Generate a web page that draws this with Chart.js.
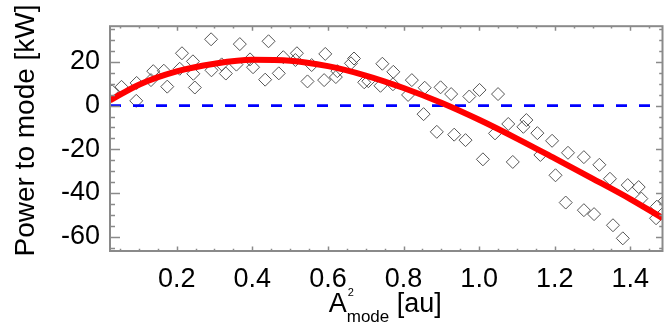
<!DOCTYPE html>
<html>
<head>
<meta charset="UTF-8">
<title>Power to mode</title>
<script src="https://cdn.jsdelivr.net/npm/chart.js"></script>
<style>
  html, body { margin: 0; padding: 0; background: #fff; }
  canvas { display: block; }
</style>
</head>
<body>
<canvas id="powerChart" width="670" height="334"></canvas>
<script>
// measured points: mode amplitude squared [au] vs power [kW]
const ampSq = [0.029, 0.054, 0.093, 0.094, 0.132, 0.138, 0.166, 0.175, 0.208, 0.214,
               0.243, 0.244, 0.248, 0.291, 0.292, 0.319, 0.330, 0.358, 0.367, 0.394,
               0.402, 0.434, 0.443, 0.470, 0.482, 0.514, 0.518, 0.546, 0.557, 0.590,
               0.593, 0.621, 0.625, 0.661, 0.669, 0.696, 0.707, 0.739, 0.744, 0.772,
               0.773, 0.812, 0.822, 0.853, 0.856, 0.888, 0.898, 0.926, 0.934, 0.964,
               0.974, 1.001, 1.010, 1.042, 1.050, 1.077, 1.089, 1.117, 1.125, 1.154,
               1.162, 1.193, 1.202, 1.229, 1.235, 1.277, 1.277, 1.304, 1.318, 1.346,
               1.354, 1.380, 1.393, 1.422, 1.429, 1.468, 1.470, 1.491];
const power = [6.6, 8.6, 2.2, 10.4, 11.7, 15.8, 16.0, 8.7, 16.9, 24.0,
               20.3, 14.6, 8.3, 30.4, 16.2, 18.9, 14.7, 18.8, 28.2, 21.2,
               17.6, 11.9, 29.5, 14.8, 22.2, 20.9, 24.0, 11.1, 18.6, 11.7,
               23.7, 13.1, 15.8, 19.4, 21.6, 10.7, 11.2, 9.1, 19.2, 9.8,
               15.5, 4.9, 11.7, -3.9, 8.2, -12.0, 8.4, 5.3, -13.3, -15.8,
               4.2, 7.2, -24.6, -12.7, 5.3, -8.4, -25.8, -9.7, -6.6, -12.6,
               -22.6, -16.1, -31.9, -44.4, -21.6, -23.6, -47.9, -49.7, -27.1, -33.5,
               -54.8, -60.8, -36.4, -37.3, -42.6, -51.6, -46.3, -43.6];

// fitted curve
const fitX = [0.0236, 0.1, 0.2, 0.3, 0.4, 0.5, 0.6, 0.7, 0.8, 0.9, 1.0, 1.1, 1.2, 1.3, 1.4, 1.485];
const fitY = [2.4, 9.6, 15.7, 19.2, 21.0, 20.6, 18.1, 13.8, 8.1, 1.3, -6.5, -15.1, -24.2, -33.4, -42.8, -51.5];

// zero reference
const zeroX = [0.0236, 1.485];
const zeroY = [0, 0];

const xTicks = [0.2, 0.4, 0.6, 0.8, 1.0, 1.2, 1.4];
const yTicks = [20, 0, -20, -40, -60];

const X_MIN = 0.0236, X_MAX = 1.485;
const Y_MIN = -66.6, Y_MAX = 36.4;
const FONT = '"Liberation Sans", Arial, Helvetica, sans-serif';

const toPoints = (xs, ys) => xs.map((v, i) => ({ x: v, y: ys[i] }));

// closed box with inward major/minor ticks on all four sides
const boxTicks = {
  id: 'boxTicks',
  afterDatasetsDraw(chart) {
    const { ctx, chartArea: a, scales: { x, y } } = chart;
    ctx.save();
    ctx.strokeStyle = '#8a8a8a';
    ctx.lineWidth = 1.5;
    ctx.beginPath();
    for (let k = Math.ceil(X_MIN / 0.05); k * 0.05 <= X_MAX; k++) {
      const px = Math.round(x.getPixelForValue(k * 0.05)) + 0.5;
      const major = k % 4 === 0;
      const len = major ? 4.5 : 2.3;
      ctx.moveTo(px, a.bottom); ctx.lineTo(px, a.bottom - len);
      ctx.moveTo(px, a.top); ctx.lineTo(px, a.top + len);
    }
    for (let k = Math.ceil(Y_MIN / 5); k * 5 <= Y_MAX; k++) {
      const py = Math.round(y.getPixelForValue(k * 5)) + 0.5;
      const major = k % 4 === 0;
      ctx.moveTo(a.left, py); ctx.lineTo(a.left + (major ? 10 : 5), py);
      ctx.moveTo(a.right, py); ctx.lineTo(a.right - (major ? 6.5 : 3.3), py);
    }
    ctx.stroke();
    ctx.lineWidth = 2;
    ctx.strokeRect(a.left, a.top, a.right - a.left, a.bottom - a.top);
    ctx.restore();
  }
};

// axis titles (x title needs a sub- and superscript)
const axisTitles = {
  id: 'axisTitles',
  afterDraw(chart) {
    const { ctx, chartArea: a } = chart;
    ctx.save();
    ctx.fillStyle = '#000';
    ctx.textBaseline = 'alphabetic';

    ctx.save();
    ctx.translate(33.5, 130.5);
    ctx.rotate(-Math.PI / 2);
    ctx.textAlign = 'center';
    ctx.font = '28px ' + FONT;
    ctx.fillText('Power to mode [kW]', 0, 0);
    ctx.restore();

    const parts = [
      { t: 'A', size: 27, dy: 0 },
      { t: 'mode', size: 17, dy: 10, sup: '2' },
      { t: ' [au]', size: 27, dy: 0 }
    ];
    let total = 0;
    parts.forEach(p => { ctx.font = p.size + 'px ' + FONT; p.w = ctx.measureText(p.t).width; total += p.w; });
    let cx = (a.left + a.right) / 2 - 1 - total / 2;
    const base = 312;
    ctx.textAlign = 'left';
    parts.forEach(p => {
      ctx.font = p.size + 'px ' + FONT;
      ctx.fillText(p.t, cx, base + p.dy);
      if (p.sup) {
        ctx.font = '11px ' + FONT;
        ctx.fillText(p.sup, cx + 1, base - 16);
      }
      cx += p.w;
    });
    ctx.restore();
  }
};

new Chart(document.getElementById('powerChart'), {
  type: 'scatter',
  data: {
    datasets: [
      {
        type: 'line',
        data: toPoints(fitX, fitY),
        borderColor: '#ff0000',
        borderWidth: 6,
        pointRadius: 0,
        cubicInterpolationMode: 'monotone',
        clip: 0,
        order: 0
      },
      {
        type: 'line',
        data: toPoints(zeroX, zeroY),
        borderColor: '#0000ff',
        borderWidth: 2.6,
        borderDash: [11, 12],
        pointRadius: 0,
        clip: 0,
        order: 1
      },
      {
        data: toPoints(ampSq, power),
        pointStyle: 'rectRot',
        pointRadius: 6.5,
        borderColor: '#555555',
        borderWidth: 1,
        backgroundColor: 'rgba(255,255,255,0)',
        clip: 0,
        order: 2
      }
    ]
  },
  options: {
    responsive: false,
    devicePixelRatio: 1,
    animation: false,
    layout: { padding: { top: 22, right: 3, left: 0, bottom: 0 } },
    plugins: { legend: { display: false }, tooltip: { enabled: false } },
    scales: {
      x: {
        type: 'linear',
        min: X_MIN,
        max: X_MAX,
        afterBuildTicks: s => { s.ticks = xTicks.map(v => ({ value: v })); },
        afterFit: s => { s.height = 83; },
        grid: { display: false, drawTicks: false, drawOnChartArea: false },
        border: { display: false },
        ticks: {
          color: '#000',
          padding: 12,
          maxRotation: 0,
          autoSkip: false,
          font: { family: FONT, size: 27 },
          callback: v => v.toFixed(1)
        }
      },
      y: {
        type: 'linear',
        min: Y_MIN,
        max: Y_MAX,
        afterBuildTicks: s => { s.ticks = yTicks.map(v => ({ value: v })); },
        afterFit: s => { s.width = 110; },
        grid: { display: false, drawTicks: false, drawOnChartArea: false },
        border: { display: false },
        ticks: {
          color: '#000',
          padding: 10,
          autoSkip: false,
          font: { family: FONT, size: 27 },
          callback: v => String(v)
        }
      }
    }
  },
  plugins: [boxTicks, axisTitles]
});
</script>
</body>
</html>
